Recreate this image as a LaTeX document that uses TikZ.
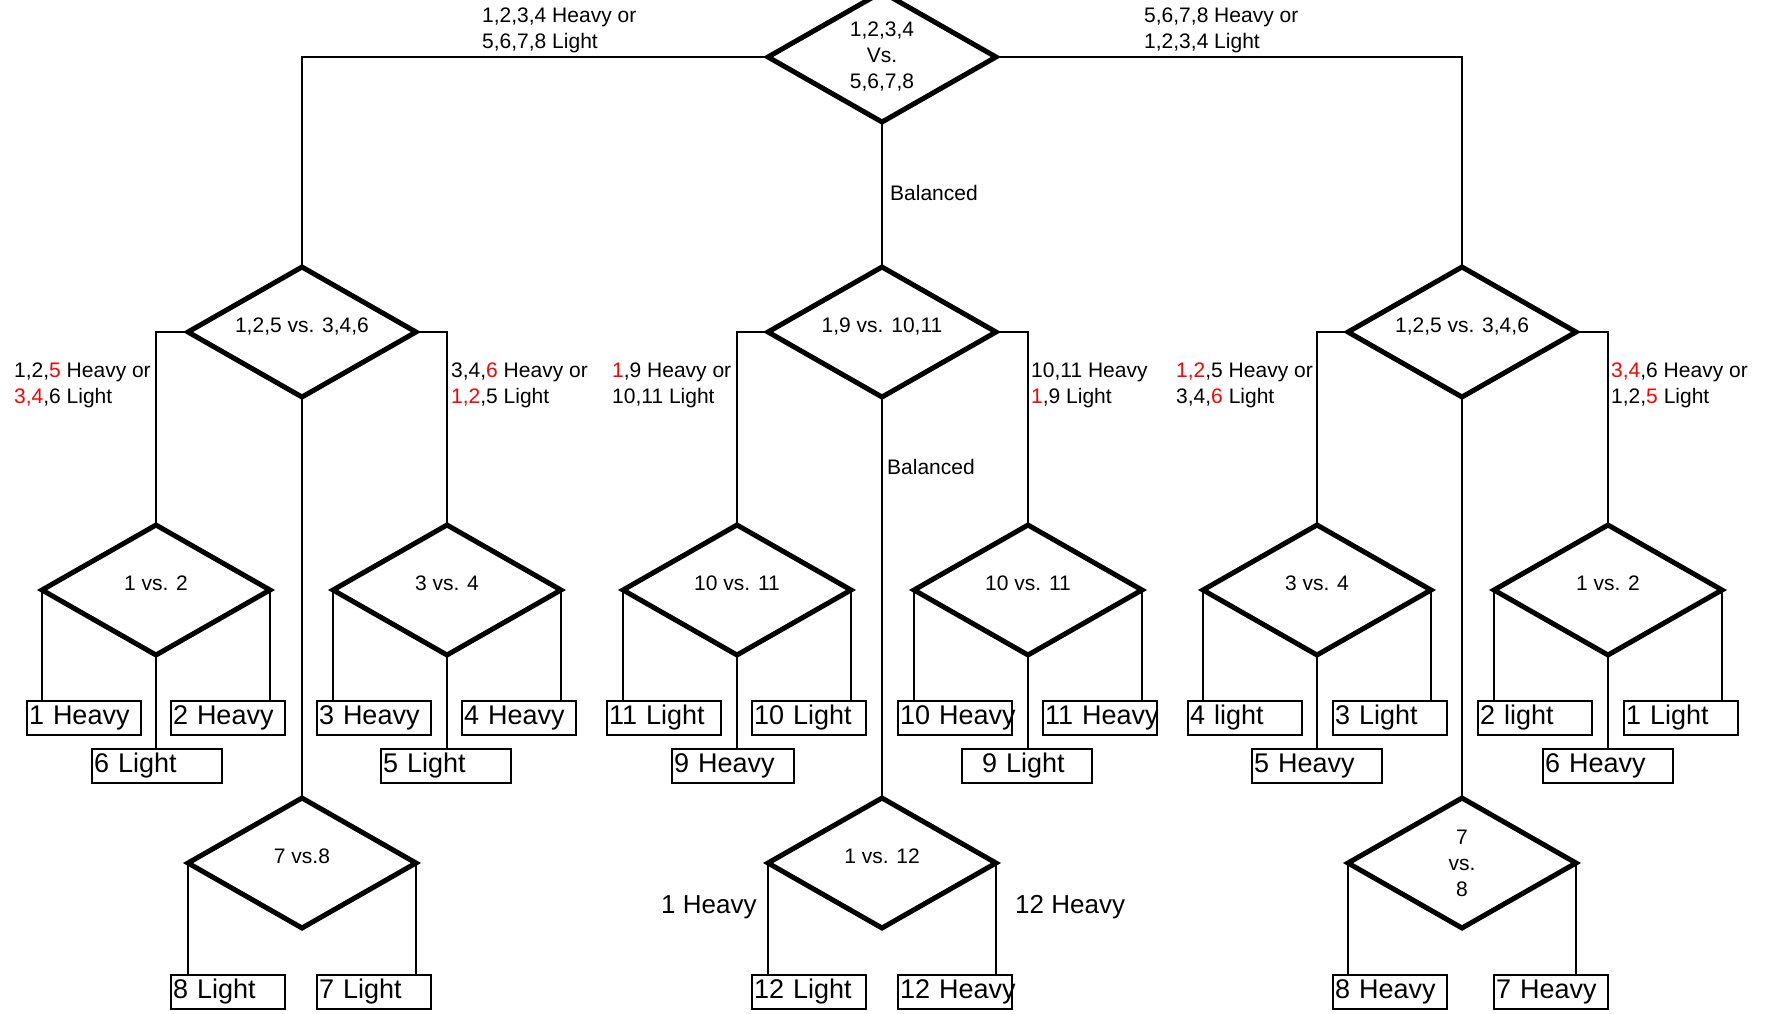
\documentclass[tikz,border=0pt]{standalone}
\usepackage{fontspec}
\setmainfont{Liberation Sans}
\usetikzlibrary{shapes.geometric}

\begin{document}
\begin{tikzpicture}[x=1pt, y=-1pt,
  test/.style={diamond, draw, line width=5pt, shape aspect=1.75, minimum width=228pt, minimum height=130pt,
    inner sep=0pt, outer sep=0pt, align=center, font=\fontsize{21}{26}\selectfont},
  up/.style={text height=15pt, text depth=15pt},
  coin/.style={draw, line width=2.5pt, minimum height=34pt, inner sep=2pt, outer sep=0pt,
    text width=#1, align=left, font=\fontsize{27}{30}\selectfont},
  coin/.default=110pt,
  lbl/.style={inner sep=0pt, anchor=west, align=left, font=\fontsize{21}{26}\selectfont},
  big/.style={lbl, font=\fontsize{26}{30}\selectfont},
  wire/.style={line width=2.5pt}]
  \useasboundingbox (0,0) rectangle (1765,1013);

  \node[test] (top) at (882,57) {1,2,3,4\\Vs.\\5,6,7,8};
  \node[test, up] (l2a) at (302,332) {1,2,5 vs. 3,4,6};
  \node[test, up] (l2b) at (882,332) {1,9 vs. 10,11};
  \node[test, up] (l2c) at (1462,332) {1,2,5 vs. 3,4,6};
  \node[test, up] (l3a) at (156,590) {1 vs. 2};
  \node[test, up] (l3b) at (447,590) {3 vs. 4};
  \node[test, up] (l3c) at (737,590) {10 vs. 11};
  \node[test, up] (l3d) at (1028,590) {10 vs. 11};
  \node[test, up] (l3e) at (1317,590) {3 vs. 4};
  \node[test, up] (l3f) at (1608,590) {1 vs. 2};
  \node[test, up] (l4a) at (302,863) {7 vs.8};
  \node[test, up] (l4b) at (882,863) {1 vs. 12};
  \node[test] (l4c) at (1462,863) {7\\vs.\\8};

  \node[coin] (b1) at (84,718) {1 Heavy};
  \node[coin] (b2) at (228,718) {2 Heavy};
  \node[coin] (b3) at (374,718) {3 Heavy};
  \node[coin] (b4) at (519,718) {4 Heavy};
  \node[coin] (b5) at (664,718) {11 Light};
  \node[coin] (b6) at (809,718) {10 Light};
  \node[coin] (b7) at (955,718) {\mbox{10 Heavy}};
  \node[coin] (b8) at (1100,718) {\mbox{11 Heavy}};
  \node[coin] (b9) at (1245,718) {4 light};
  \node[coin] (b10) at (1390,718) {3 Light};
  \node[coin] (b11) at (1535,718) {2 light};
  \node[coin] (b12) at (1681,718) {1 Light};

  \node[coin=126pt] (c1) at (157,766) {6 Light};
  \node[coin=126pt] (c2) at (446,766) {5 Light};
  \node[coin=118pt] (c3) at (733,766) {9 Heavy};
  \node[coin=126pt] (c4) at (1027,766) {\ \ 9 Light};
  \node[coin=126pt] (c5) at (1317,766) {5 Heavy};
  \node[coin=126pt] (c6) at (1608,766) {6 Heavy};

  \node[coin] (d1) at (228,992) {8 Light};
  \node[coin] (d2) at (374,992) {7 Light};
  \node[coin] (d3) at (809,992) {12 Light};
  \node[coin] (d4) at (955,992) {\mbox{12 Heavy}};
  \node[coin] (d5) at (1390,992) {8 Heavy};
  \node[coin] (d6) at (1551,992) {7 Heavy};

  \draw[wire] (top.west) -| (l2a.north);
  \draw[wire] (top.east) -| (l2c.north);
  \draw[wire] (top.south) -- (l2b.north);
  \draw[wire] (l2a.west) -| (l3a.north);
  \draw[wire] (l2a.east) -| (l3b.north);
  \draw[wire] (l2a.south) -- (l4a.north);
  \draw[wire] (l2b.west) -| (l3c.north);
  \draw[wire] (l2b.east) -| (l3d.north);
  \draw[wire] (l2b.south) -- (l4b.north);
  \draw[wire] (l2c.west) -| (l3e.north);
  \draw[wire] (l2c.east) -| (l3f.north);
  \draw[wire] (l2c.south) -- (l4c.north);

  \draw[wire] (l3a.west) -- (l3a.west |- b1.north);
  \draw[wire] (l3a.east) -- (l3a.east |- b2.north);
  \draw[wire] (l3a.south) -- (l3a.south |- c1.north);
  \draw[wire] (l3b.west) -- (l3b.west |- b3.north);
  \draw[wire] (l3b.east) -- (l3b.east |- b4.north);
  \draw[wire] (l3b.south) -- (l3b.south |- c2.north);
  \draw[wire] (l3c.west) -- (l3c.west |- b5.north);
  \draw[wire] (l3c.east) -- (l3c.east |- b6.north);
  \draw[wire] (l3c.south) -- (l3c.south |- c3.north);
  \draw[wire] (l3d.west) -- (l3d.west |- b7.north);
  \draw[wire] (l3d.east) -- (l3d.east |- b8.north);
  \draw[wire] (l3d.south) -- (l3d.south |- c4.north);
  \draw[wire] (l3e.west) -- (l3e.west |- b9.north);
  \draw[wire] (l3e.east) -- (l3e.east |- b10.north);
  \draw[wire] (l3e.south) -- (l3e.south |- c5.north);
  \draw[wire] (l3f.west) -- (l3f.west |- b11.north);
  \draw[wire] (l3f.east) -- (l3f.east |- b12.north);
  \draw[wire] (l3f.south) -- (l3f.south |- c6.north);
  \draw[wire] (l4a.west) -- (l4a.west |- d1.north);
  \draw[wire] (l4a.east) -- (l4a.east |- d2.north);
  \draw[wire] (l4b.west) -- (l4b.west |- d3.north);
  \draw[wire] (l4b.east) -- (l4b.east |- d4.north);
  \draw[wire] (l4c.west) -- (l4c.west |- d5.north);
  \draw[wire] (l4c.east) -- (l4c.east |- d6.north);

  \node[lbl] (ltop) at (482,30) {1,2,3,4 Heavy or\\5,6,7,8 Light};
  \node[lbl] (rtop) at (1144,30) {5,6,7,8 Heavy or\\1,2,3,4 Light};
  \node[lbl] (bal1) at (890,193) {Balanced};
  \node[lbl] (bal2) at (887,467) {Balanced};
  \node[lbl] (la) at (14,385) {1,2,\textcolor{red}{5} Heavy or\\\textcolor{red}{3,4},6 Light};
  \node[lbl] (lb) at (451,385) {3,4,\textcolor{red}{6} Heavy or\\\textcolor{red}{1,2},5 Light};
  \node[lbl] (lc) at (612,385) {\textcolor{red}{1},9 Heavy or\\10,11 Light};
  \node[lbl] (ld) at (1031,385) {10,11 Heavy\\\textcolor{red}{1},9 Light};
  \node[lbl] (le) at (1176,385) {\textcolor{red}{1,2},5 Heavy or\\3,4,\textcolor{red}{6} Light};
  \node[lbl] (lf) at (1611,385) {\textcolor{red}{3,4},6 Heavy or\\1,2,\textcolor{red}{5} Light};
  \node[big] (h1) at (661,907) {1 Heavy};
  \node[big] (h12) at (1015,907) {12 Heavy};
\end{tikzpicture}
\end{document}
